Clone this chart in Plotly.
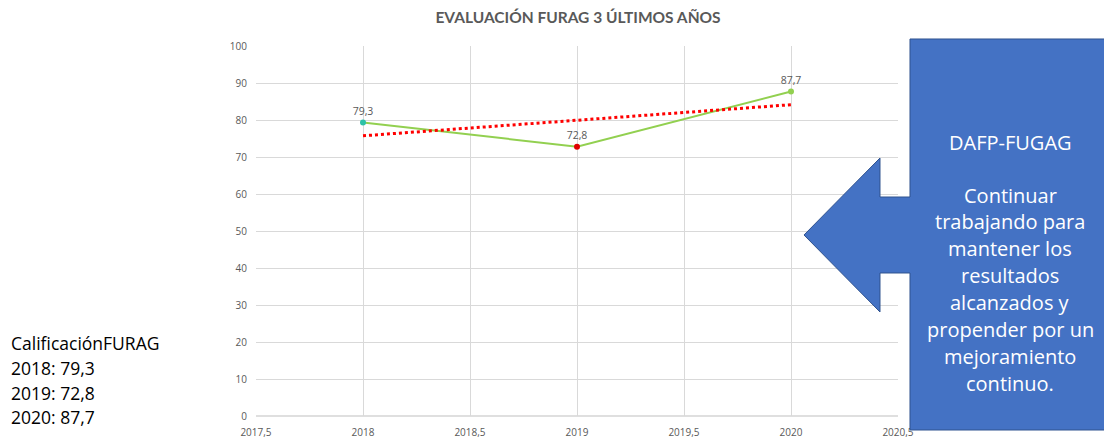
import numpy as np
import plotly.graph_objects as go

years = [2018, 2019, 2020]
scores = [79.3, 72.8, 87.7]
score_labels = ["79,3", "72,8", "87,7"]
marker_colors = ["#2DC2A8", "#E00000", "#92D050"]
x_ticks = [2017.5, 2018, 2018.5, 2019, 2019.5, 2020, 2020.5]
x_tick_labels = ["2017,5", "2018", "2018,5", "2019", "2019,5", "2020", "2020,5"]
y_ticks = list(range(0, 101, 10))
side_lines = ["CalificaciónFURAG", "2018: 79,3", "2019: 72,8", "2020: 87,7"]
callout_lines = ["DAFP-FUGAG", "", "Continuar", "trabajando para", "mantener los",
                 "resultados", "alcanzados y", "propender por un", "mejoramiento", "continuo."]

# linear trendline (least squares) like Excel
slope, intercept = np.polyfit(years, scores, 1)
trend = [slope * x + intercept for x in years]

W, H = 1104, 439
L, R, T, B = 256, 898, 46, 416  # pixel coords of plot area

def px(x):
    return (x - L) / (R - L)

def py(y):
    return (B - y) / (B - T)

FONT = "Open Sans"

fig = go.Figure()
fig.add_trace(go.Scatter(
    x=years, y=scores, mode="lines+markers+text",
    line=dict(color="#92D050", width=2),
    marker=dict(color=marker_colors, size=6),
    text=score_labels, textposition="top center",
    textfont=dict(size=10.5, color="#595959", family=FONT),
    cliponaxis=False, showlegend=False, hoverinfo="skip"))
fig.add_trace(go.Scatter(
    x=years, y=trend, mode="lines",
    line=dict(color="#FF0000", width=3, dash="dot"),
    showlegend=False, hoverinfo="skip"))

# callout arrow shape (left arrow callout)
pts = [(910, 39), (1115, 39), (1115, 430), (910, 430), (910, 273), (880, 273),
       (880, 312), (804, 235), (880, 158), (880, 197), (910, 197)]
path = "M " + " L ".join(f"{px(a):.5f},{py(b):.5f}" for a, b in pts) + " Z"
fig.add_shape(type="path", xref="paper", yref="paper", path=path,
              fillcolor="#4472C4", line=dict(color="#2F528F", width=1), layer="above")

annotations = []
for i, t in enumerate(callout_lines):
    if t == "":
        continue
    yy = 142 if i == 0 else 195 + (i - 2) * 26.9
    annotations.append(dict(text=t, xref="paper", yref="paper", x=px(1010), y=py(yy),
                            xanchor="center", yanchor="middle", showarrow=False,
                            font=dict(size=20, color="white", family=FONT)))
for i, t in enumerate(side_lines):
    annotations.append(dict(text=t, xref="paper", yref="paper", x=px(9), y=py(343 + i * 24.8),
                            xanchor="left", yanchor="middle", showarrow=False,
                            font=dict(size=17.5, color="#000000", family=FONT)))

fig.update_layout(
    width=W, height=H,
    margin=dict(l=L, r=W - R, t=T, b=H - B, pad=0, autoexpand=False),
    paper_bgcolor="white", plot_bgcolor="white",
    separators=",.",
    title=dict(text="<b>EVALUACIÓN FURAG 3 ÚLTIMOS AÑOS</b>", x=578 / W, xanchor="center",
               y=1 - 18 / H, yanchor="middle",
               font=dict(size=15.5, color="#595959", family="Lato")),
    xaxis=dict(range=[2017.5, 2020.5], tickvals=x_ticks, ticktext=x_tick_labels,
               showgrid=True, gridcolor="#D9D9D9", gridwidth=1, zeroline=False,
               showline=False, ticks="", ticklabelstandoff=9, automargin=False,
               tickfont=dict(size=10, color="#595959", family=FONT)),
    yaxis=dict(range=[0, 100], tickvals=y_ticks, showgrid=True, gridcolor="#D9D9D9",
               zeroline=False, showline=False, ticks="", ticklabelstandoff=8, automargin=False,
               tickfont=dict(size=10, color="#595959", family=FONT)),
    annotations=annotations,
)
fig.add_shape(type="line", xref="paper", yref="paper", x0=0, x1=1, y0=0, y1=0,
              line=dict(color="#BFBFBF", width=1), layer="below")
fig.write_html("out.html", config={"displayModeBar": False},
               post_script="document.body.style.margin='0';document.body.style.overflow='hidden';")
